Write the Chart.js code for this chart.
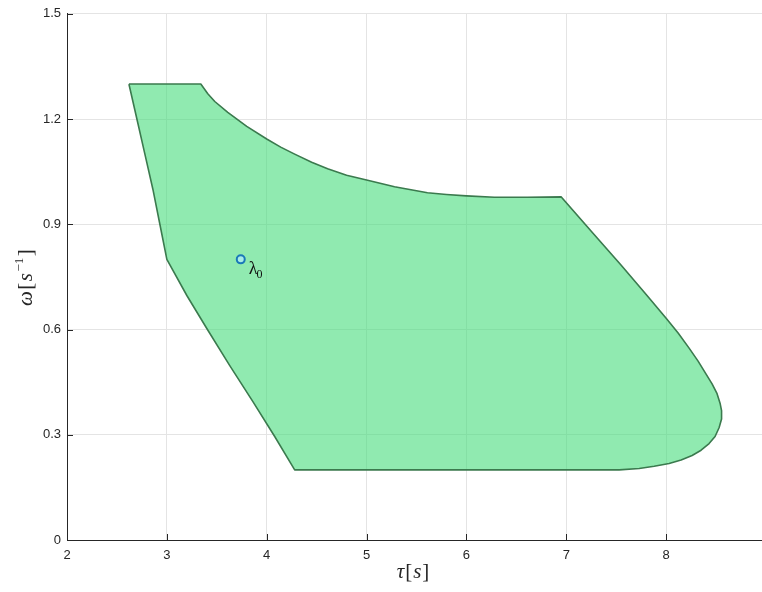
<!DOCTYPE html>
<html>
<head>
<meta charset="utf-8">
<script src="https://cdn.jsdelivr.net/npm/chart.js@4.4.0/dist/chart.umd.min.js"></script>
<style>
  html, body { margin: 0; padding: 0; background: #fff; overflow: hidden; }
  #wrap { width: 762px; height: 592px; overflow: hidden; }
</style>
</head>
<body>
<div id="wrap"><canvas id="myChart" width="780" height="592"></canvas></div>
<script>
// tick labels
const xTicks = [2, 3, 4, 5, 6, 7, 8, 9];
const yTicks = [0, 0.3, 0.6, 0.9, 1.2, 1.5];

// boundary of the feasible region (tau, omega)
const regionTau = [2.62, 3.34, 3.41, 3.48, 3.61, 3.8, 4.0, 4.14, 4.28, 4.45, 4.61, 4.8, 5.0, 5.28, 5.61, 5.8, 6.0, 6.28, 6.61, 6.95,
                   7.25, 7.55, 7.8, 8.0, 8.12, 8.23, 8.32, 8.40, 8.46, 8.51, 8.54, 8.555, 8.555, 8.53, 8.49, 8.43, 8.35, 8.26, 8.15, 8.03, 7.88, 7.73, 7.53,
                   4.28, 4.08, 3.86, 3.63, 3.4, 3.2, 3.0, 2.93, 2.86, 2.78, 2.70, 2.62];
const regionOmega = [1.3, 1.3, 1.272, 1.25, 1.219, 1.179, 1.143, 1.12, 1.10, 1.077, 1.058, 1.040, 1.026, 1.007, 0.99, 0.985, 0.981, 0.977, 0.977, 0.978,
                     0.88, 0.783, 0.70, 0.632, 0.59, 0.547, 0.51, 0.473, 0.445, 0.417, 0.39, 0.369, 0.345, 0.32, 0.295, 0.275, 0.256, 0.241, 0.228, 0.218, 0.21, 0.204, 0.2,
                     0.2, 0.295, 0.395, 0.497, 0.603, 0.697, 0.8, 0.9, 1.0, 1.1, 1.2, 1.3];

// lambda_0 point
const lambdaTau = [3.74];
const lambdaOmega = [0.8];

const axisColor = '#262626';
const gridColor = '#e4e4e4';

const extras = {
  id: 'extras',
  afterDraw(chart) {
    const c = chart.ctx;
    const xs = chart.scales.x, ys = chart.scales.y;
    const a = chart.chartArea;
    c.save();
    // inward tick marks
    c.strokeStyle = axisColor;
    c.lineWidth = 1;
    c.beginPath();
    xTicks.forEach(v => {
      const px = Math.round(xs.getPixelForValue(v)) + 0.5;
      c.moveTo(px, a.bottom); c.lineTo(px, a.bottom - 6);
    });
    yTicks.forEach(v => {
      const py = Math.round(ys.getPixelForValue(v)) + 0.5;
      c.moveTo(a.left, py); c.lineTo(a.left + 6, py);
    });
    c.stroke();

    // lambda_0 label
    const lx = xs.getPixelForValue(lambdaTau[0]) + 8;
    const ly = ys.getPixelForValue(lambdaOmega[0]) + 15;
    c.fillStyle = '#111';
    c.textBaseline = 'alphabetic';
    c.textAlign = 'left';
    c.font = '18px "Liberation Serif", serif';
    c.fillText('λ', lx, ly);
    const lw = c.measureText('λ').width;
    c.font = '12px "Liberation Serif", serif';
    c.fillText('0', lx + lw - 1, ly + 4);

    // x title: tau[s]
    const parts = [['τ', 'italic '], ['[', ''], ['s', 'italic '], [']', '']];
    const size = 21;
    let total = 0;
    parts.forEach(p => { c.font = p[1] + size + 'px "Liberation Serif", serif'; total += c.measureText(p[0]).width + 1; });
    let x0 = (a.left + a.right) / 2 - 3 - total / 2;
    c.fillStyle = axisColor;
    parts.forEach(p => {
      c.font = p[1] + size + 'px "Liberation Serif", serif';
      c.fillText(p[0], x0, 578);
      x0 += c.measureText(p[0]).width + 1;
    });

    // y title: omega[s^-1]
    c.translate(32, (a.top + a.bottom) / 2);
    c.rotate(-Math.PI / 2);
    const yparts = [['ω', 'italic ', size, 0], ['[', '', size, 0], ['s', 'italic ', size, 0], ['−1', '', 13, -9], [']', '', size, 0]];
    let yt = 0;
    yparts.forEach(p => { c.font = p[1] + p[2] + 'px "Liberation Serif", serif'; yt += c.measureText(p[0]).width + 1.5; });
    let y0 = -yt / 2;
    yparts.forEach(p => {
      c.font = p[1] + p[2] + 'px "Liberation Serif", serif';
      c.fillText(p[0], y0, p[3]);
      y0 += c.measureText(p[0]).width + 1.5;
    });
    c.restore();
  }
};

const ctx = document.getElementById('myChart').getContext('2d');
const myChart = new Chart(ctx, {
  type: 'scatter',
  data: {
    datasets: [{
      label: 'lambda0',
      data: lambdaTau.map((t, i) => ({ x: t, y: lambdaOmega[i] })),
      pointRadius: 4,
      pointBorderWidth: 2,
      pointBorderColor: '#1a78b8',
      pointBackgroundColor: '#a8ece6',
      showLine: false
    }, {
      label: 'region',
      data: regionTau.map((t, i) => ({ x: t, y: regionOmega[i] })),
      showLine: true,
      fill: 'shape',
      backgroundColor: 'rgba(70, 220, 123, 0.6)',
      borderColor: '#3b7a4e',
      borderWidth: 1.6,
      borderJoinStyle: 'round',
      pointRadius: 0,
      tension: 0
    }]
  },
  options: {
    responsive: false,
    animation: false,
    layout: { padding: { top: 11, right: 14, left: 0, bottom: 0 } },
    plugins: {
      legend: { display: false },
      tooltip: { enabled: false }
    },
    scales: {
      x: {
        type: 'linear',
        min: 2,
        max: 9,
        afterBuildTicks: s => { s.ticks = xTicks.map(v => ({ value: v })); },
        afterFit: s => { s.height = 52; s.paddingLeft = 0; s.paddingRight = 0; },
        ticks: {
          color: axisColor,
          font: { family: '"Liberation Sans", Arial, sans-serif', size: 13 },
          padding: 8,
          maxRotation: 0,
          callback: v => String(v)
        },
        grid: { color: gridColor, drawTicks: false },
        border: { color: axisColor, width: 1 }
      },
      y: {
        type: 'linear',
        min: 0,
        max: 1.5,
        afterBuildTicks: s => { s.ticks = yTicks.map(v => ({ value: v })); },
        afterFit: s => { s.width = 67; },
        ticks: {
          color: axisColor,
          font: { family: '"Liberation Sans", Arial, sans-serif', size: 13 },
          padding: 6,
          callback: v => String(v)
        },
        grid: { color: gridColor, drawTicks: false },
        border: { color: axisColor, width: 1 }
      }
    }
  },
  plugins: [extras]
});
</script>
</body>
</html>
